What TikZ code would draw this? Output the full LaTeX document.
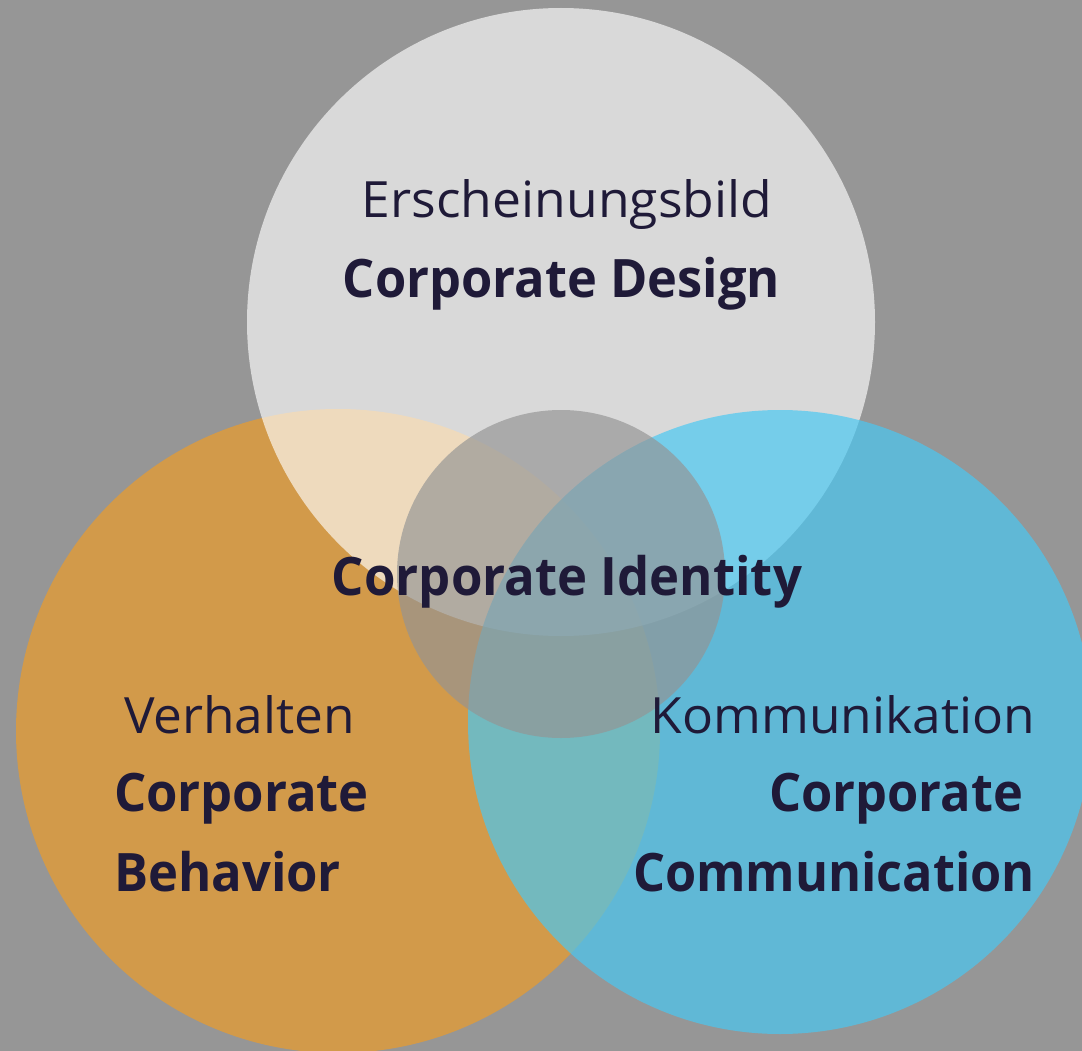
\documentclass[tikz,border=0pt]{standalone}
\usepackage{fontspec}
\setmainfont{Open Sans}
\usepackage{graphicx}
\definecolor{bg}{RGB}{150,150,150}
\definecolor{orangec}{RGB}{210,154,74}
\definecolor{bluec}{RGB}{73,200,243}
\definecolor{centerc}{RGB}{148,148,148}
\definecolor{ink}{RGB}{31,26,56}
\newcommand\fitto[2]{\resizebox{#1}{\height}{#2}}
\newcommand\regtxt{\fontsize{50}{58}\selectfont}
\newcommand\boldtxt{\fontsize{53}{60}\selectfont\bfseries}
\tikzset{lbl/.style={inner sep=0pt, outer sep=0pt, text=ink}}
\begin{document}
\begin{tikzpicture}[x=1pt,y=-1pt]
\fill[bg] (0,0) rectangle (1082,1051);
\useasboundingbox (0,0) rectangle (1082,1051);
\fill[orangec] (338,731) circle (322pt);
\fill[white,opacity=0.64] (561,322) circle (314pt);
\fill[bluec,opacity=0.69] (780,722) circle (312pt);
\fill[centerc,opacity=0.67] (561,574) circle (164pt);
\node[lbl,anchor=base] (ersch) at (567,218) {\regtxt\fitto{410pt}{Erscheinungsbild}};
\node[lbl,anchor=base] (cdesign) at (561.5,297) {\boldtxt\fitto{437pt}{Corporate Design}};
\node[lbl,anchor=base] (cident) at (567,595) {\boldtxt\fitto{470pt}{Corporate Identity}};
\node[lbl,anchor=base west] (verh) at (124,733) {\regtxt\fitto{231pt}{Verhalten}};
\node[lbl,anchor=base west] (corpL) at (114,811) {\boldtxt\fitto{255pt}{Corporate}};
\node[lbl,anchor=base west] (behav) at (114,891) {\boldtxt\fitto{227pt}{Behavior}};
\node[lbl,anchor=base east] (komm) at (1035,733) {\regtxt\fitto{384pt}{Kommunikation}};
\node[lbl,anchor=base east] (corpR) at (1023,811) {\boldtxt\fitto{254pt}{Corporate}};
\node[lbl,anchor=base east] (commun) at (1035,891) {\boldtxt\fitto{402pt}{Communication}};
\end{tikzpicture}
\end{document}
